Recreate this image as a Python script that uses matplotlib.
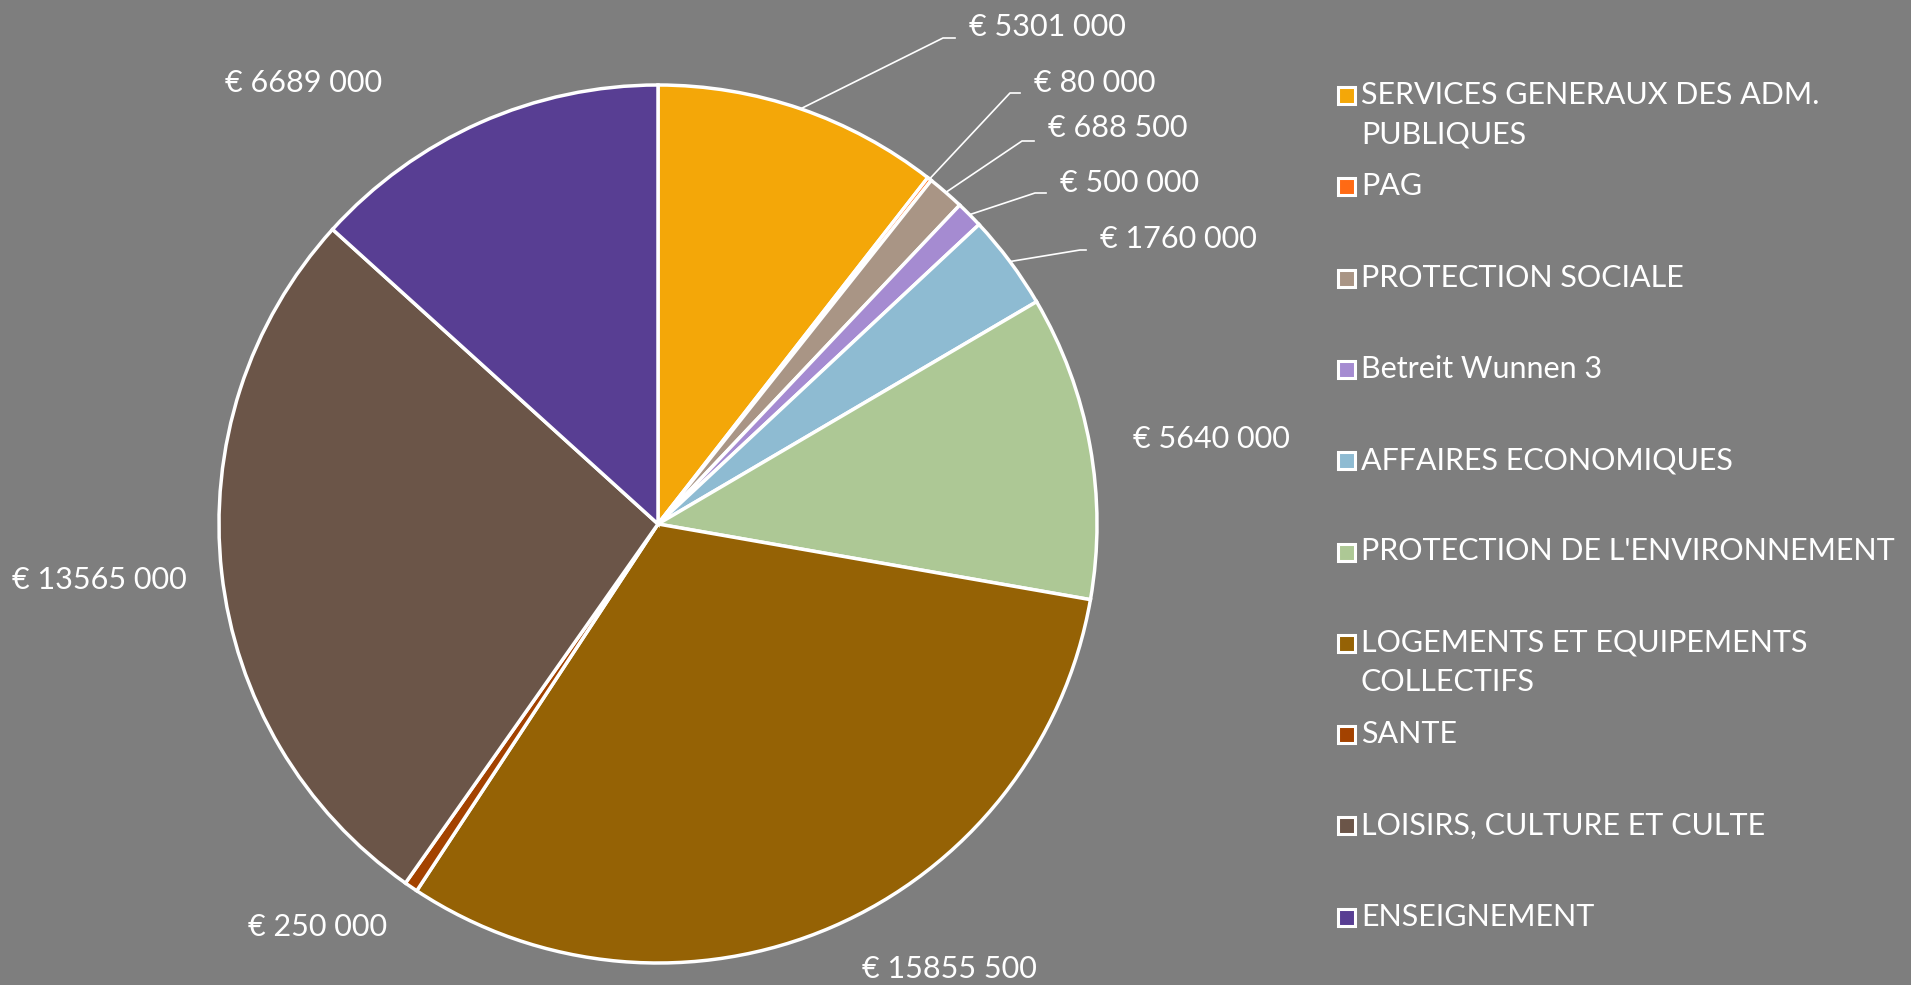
import matplotlib
matplotlib.use("Agg")
import matplotlib.pyplot as plt
from matplotlib.patches import Rectangle
import numpy as np

# data
categories = [
    "SERVICES GENERAUX DES ADM.\nPUBLIQUES",
    "PAG",
    "PROTECTION SOCIALE",
    "Betreit Wunnen 3",
    "AFFAIRES ECONOMIQUES",
    "PROTECTION DE L'ENVIRONNEMENT",
    "LOGEMENTS ET EQUIPEMENTS\nCOLLECTIFS",
    "SANTE",
    "LOISIRS, CULTURE ET CULTE",
    "ENSEIGNEMENT",
]
values = [5301000, 80000, 688500, 500000, 1760000, 5640000, 15855500, 250000, 13565000, 6689000]
colors = ["#F4A708", "#FF6A14", "#A99585", "#A58BD1", "#8EBBD2",
          "#ADC895", "#956205", "#A34200", "#6B5548", "#583E93"]

# layout (reference pixel coords, y from top)
W, H = 1911, 985
CX, CY, R = 658, 524, 439
# label anchor (left x, center y); elbow = end of leader line or None
label_pos = [(969, 27), (1034, 83), (1048, 128), (1060, 183), (1100, 239),
             (1133, 439), (862, 969), (248, 927), (12, 580), (225, 83)]
elbows = [(943, 38), (1010, 93), (1022, 141), (1035, 193), (1080, 250),
          None, None, None, None, None]

BG = "#7e7e7e"
FONT = dict(family=["Lato", "DejaVu Sans"], color="white")
FS = 22


def fmt(v):
    head, tail = divmod(v, 1000)
    return f"€ {head} {tail:03d}"


fig = plt.figure(figsize=(W / 100, H / 100), dpi=100, facecolor=BG)
ax = fig.add_axes([0, 0, 1, 1])
ax.set_facecolor(BG)

# y axis is flipped below, so counterclockwise here reads clockwise
wedges, _ = ax.pie(values, colors=colors, startangle=-90, counterclock=True,
                   center=(CX, CY), radius=R, frame=True,
                   wedgeprops=dict(edgecolor="white", linewidth=2.5))
ax.set_xlim(0, W)
ax.set_ylim(H, 0)
ax.set_aspect("equal")
ax.axis("off")

total = sum(values)
ang = 90.0
for i, v in enumerate(values):
    sweep = 360.0 * v / total
    mid = np.deg2rad(ang - sweep / 2)
    ang -= sweep
    lx, ly = label_pos[i]
    ax.text(lx, ly, fmt(v), ha="left", va="center", fontsize=FS, **FONT)
    if elbows[i] is not None:
        sx = CX + R * np.cos(mid)
        sy = CY - R * np.sin(mid)
        ex, ey = elbows[i]
        ax.plot([sx, ex, lx - 14], [sy, ey, ey], color="white", lw=1.2)

# legend
leg_x, leg_y0, leg_step, line_gap = 1338, 95, 91.3, 39
for i, (name, c) in enumerate(zip(categories, colors)):
    y = leg_y0 + i * leg_step
    ax.add_patch(Rectangle((leg_x, y - 8), 17, 17, facecolor=c,
                           edgecolor="white", linewidth=2.2))
    for j, line in enumerate(name.split("\n")):
        ax.text(leg_x + 23, y + j * line_gap, line, ha="left", va="center",
                fontsize=FS, **FONT)

fig.savefig("out.png", dpi=100, facecolor=BG)
